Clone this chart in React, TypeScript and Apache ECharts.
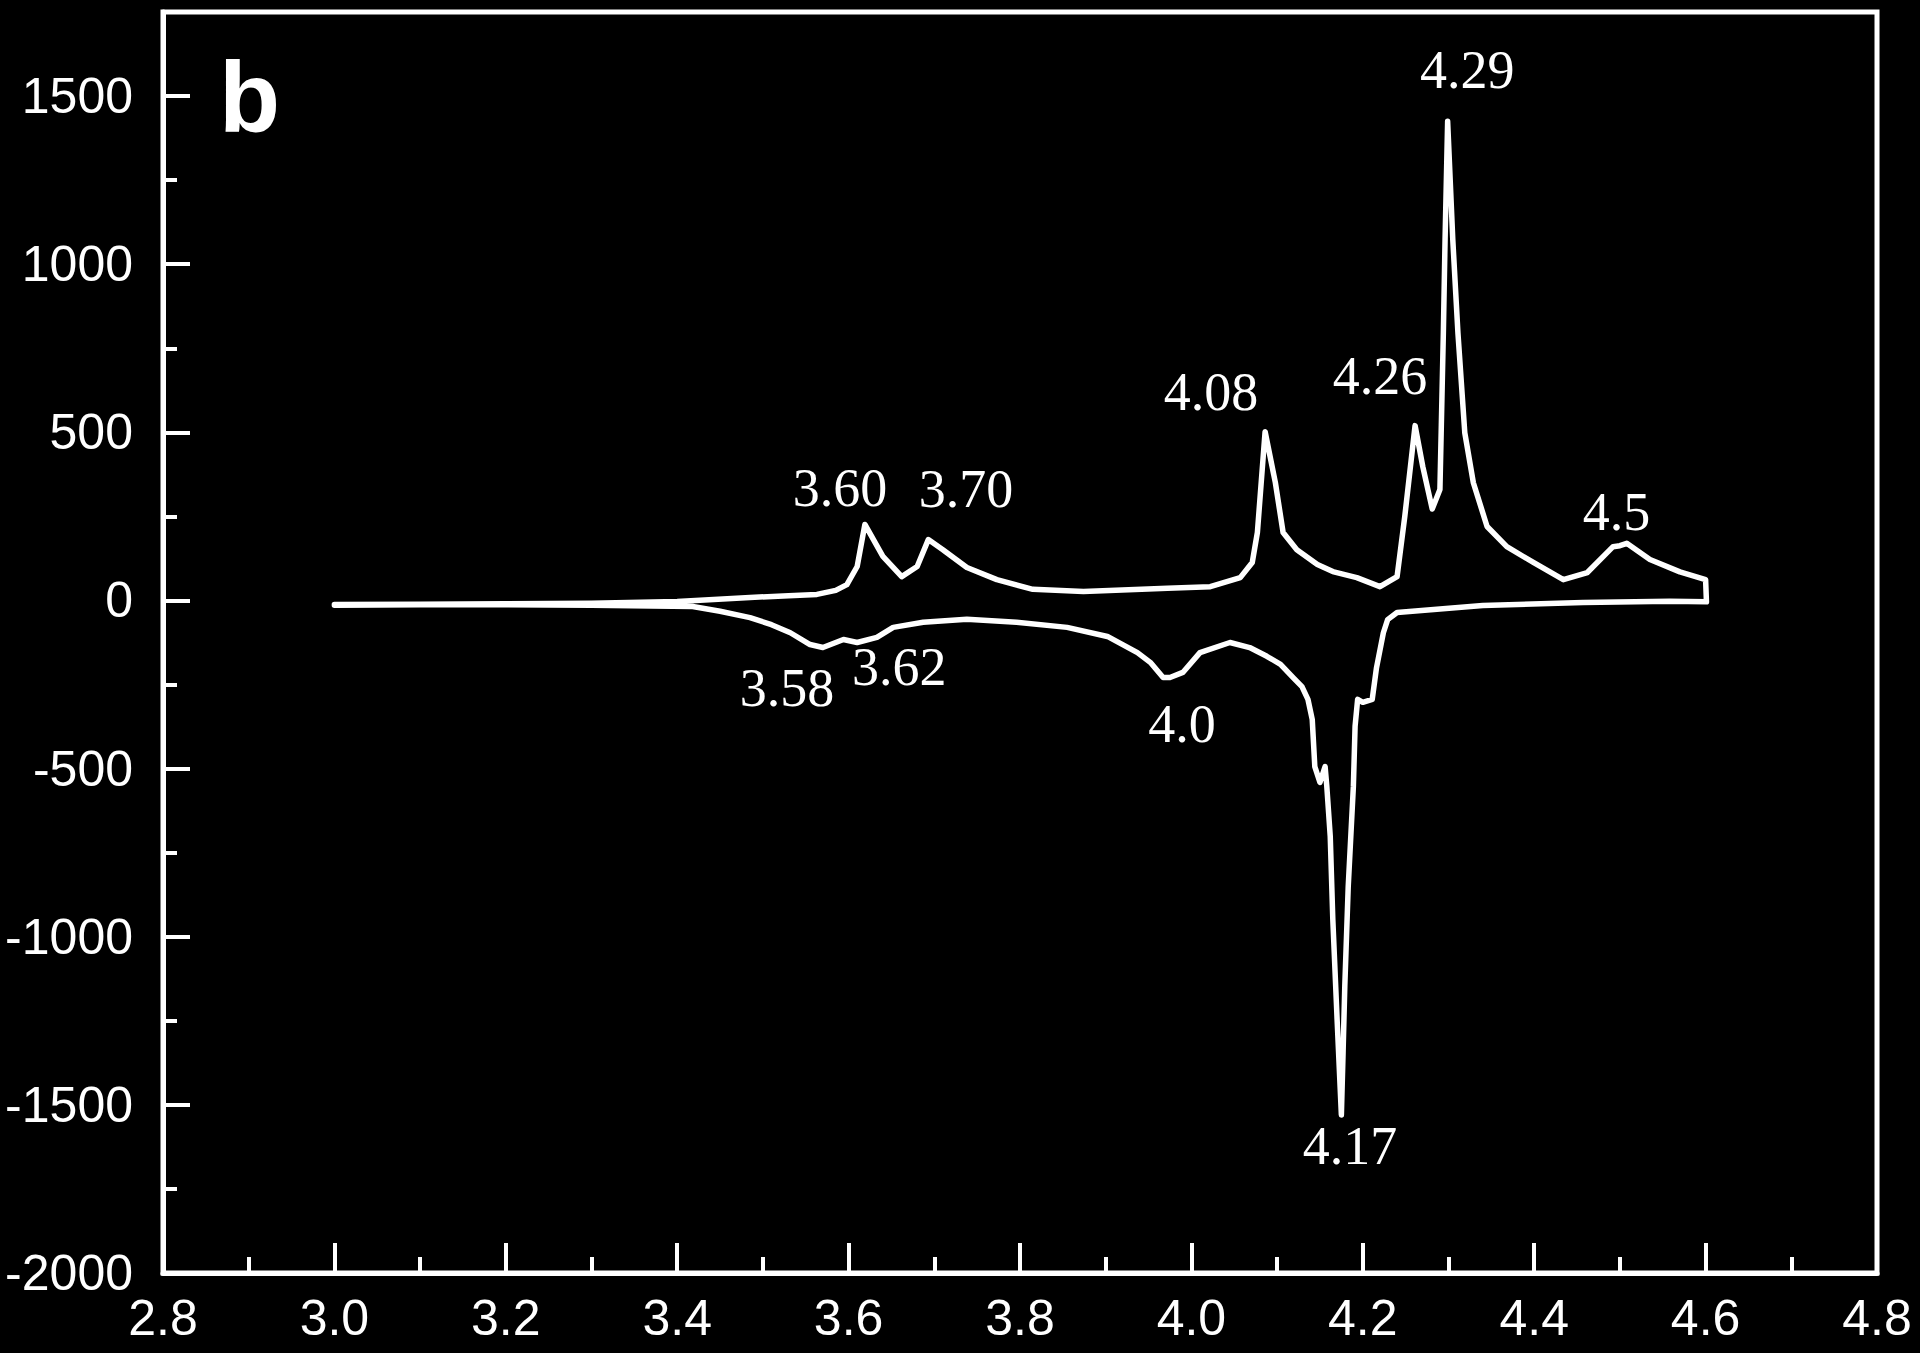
import React, { useEffect, useRef } from "react";
import * as echarts from "echarts";

// Anodic (forward) scan: potential (V) and current
const anodicX = [3.0, 3.1, 3.2, 3.3, 3.4, 3.485, 3.53, 3.563, 3.585, 3.598, 3.61, 3.619, 3.64, 3.662, 3.68, 3.693, 3.71, 3.738, 3.773, 3.815, 3.874, 3.972, 4.022, 4.057, 4.071, 4.077, 4.086, 4.098, 4.107, 4.123, 4.147, 4.165, 4.193, 4.22, 4.24, 4.249, 4.261, 4.27, 4.281, 4.29, 4.294, 4.296, 4.299, 4.305, 4.311, 4.319, 4.329, 4.345, 4.368, 4.399, 4.434, 4.462, 4.492, 4.5, 4.508, 4.535, 4.57, 4.6, 4.601];
const anodicY = [-12, -11, -10, -8, -3, 9, 14, 18, 30, 47, 101, 226, 131, 71, 101, 181, 151, 98, 62, 33, 27, 36, 41, 68, 113, 202, 502, 350, 202, 151, 107, 86, 68, 41, 71, 250, 520, 398, 272, 330, 796, 1073, 1425, 1073, 796, 499, 350, 220, 160, 113, 62, 83, 160, 163, 170, 122, 85, 62, -4];

// Cathodic (reverse) scan
const cathodicX = [4.558, 4.457, 4.34, 4.24, 4.229, 4.224, 4.216, 4.211, 4.2, 4.194, 4.191, 4.189, 4.183, 4.179, 4.177, 4.175, 4.17, 4.165, 4.162, 4.158, 4.156, 4.15, 4.144, 4.141, 4.136, 4.129, 4.119, 4.104, 4.088, 4.068, 4.045, 4.01, 3.99, 3.975, 3.967, 3.952, 3.937, 3.902, 3.855, 3.796, 3.738, 3.687, 3.652, 3.633, 3.61, 3.594, 3.57, 3.555, 3.532, 3.51, 3.485, 3.45, 3.418, 3.3, 3.2, 3.1, 3.0];
const cathodicY = [-2, -6, -15, -36, -57, -96, -200, -294, -303, -294, -374, -553, -850, -1147, -1343, -1530, -1245, -948, -701, -553, -494, -541, -494, -354, -294, -256, -230, -190, -166, -140, -125, -155, -214, -229, -229, -184, -155, -107, -80, -65, -56, -65, -80, -110, -125, -116, -140, -131, -96, -72, -51, -32, -18, -14, -13, -13, -14];

// Peak annotations
const peakLabels = ["4.29", "4.08", "4.26", "3.60", "3.70", "4.5", "3.58", "3.62", "4.0", "4.17"];
const peakLabelX = [4.322, 4.023, 4.22, 3.59, 3.737, 4.496, 3.528, 3.659, 3.989, 4.185];
const peakLabelY = [1578, 621, 668, 333, 330, 264, -259, -199, -366, -1623];

// Axis settings
const xMin = 2.8;
const xMax = 4.8;
const xStep = 0.2;
const yMin = -2000;
const yMax = 1750;
const yStep = 500;
const yMinorStep = 250;

export default function App() {
  const ref = useRef<HTMLDivElement>(null);

  useEffect(() => {
    if (!ref.current) return;
    const chart = echarts.init(ref.current, undefined, { renderer: "svg" });

    const loop: number[][] = [];
    anodicX.forEach((x, i) => loop.push([x, anodicY[i]]));
    cathodicX.forEach((x, i) => loop.push([x, cathodicY[i]]));

    const labelData = peakLabels.map((t, i) => [peakLabelX[i], peakLabelY[i], t]);

    const white = "#ffffff";
    const sansLabel = {
      color: white,
      fontFamily: "Liberation Sans",
      fontSize: 50,
    };

    chart.setOption({
      animation: false,
      backgroundColor: "#000000",
      grid: {
        show: true,
        left: 163,
        right: 43,
        top: 12,
        bottom: 80,
        borderColor: white,
        borderWidth: 5,
        backgroundColor: "transparent",
      },
      xAxis: {
        type: "value",
        min: xMin,
        max: xMax,
        interval: xStep,
        axisLine: { show: true, onZero: false, lineStyle: { color: white, width: 5 } },
        axisTick: { show: true, inside: true, length: 30, lineStyle: { color: white, width: 4 } },
        minorTick: { show: true, splitNumber: 2, length: 16, lineStyle: { color: white, width: 4 } },
        splitLine: { show: false },
        minorSplitLine: { show: false },
        axisLabel: {
          ...sansLabel,
          margin: 20,
          formatter: (v: number) => v.toFixed(1),
        },
      },
      yAxis: [
        {
          type: "value",
          min: yMin,
          max: yMax,
          interval: yStep,
          position: "left",
          axisLine: { show: true, onZero: false, lineStyle: { color: white, width: 5 } },
          axisTick: { show: true, inside: true, length: 27, lineStyle: { color: white, width: 4 } },
          splitLine: { show: false },
          axisLabel: {
            ...sansLabel,
            margin: 30,
            showMaxLabel: false,
            formatter: (v: number) => (Math.abs(v - yMax) < 1e-6 ? "" : String(Math.round(v))),
          },
        },
        {
          type: "value",
          min: yMin,
          max: yMax,
          interval: yMinorStep,
          position: "left",
          offset: 0,
          axisLine: { show: false },
          axisTick: { show: true, inside: true, length: 14, lineStyle: { color: white, width: 4 } },
          splitLine: { show: false },
          axisLabel: { show: false },
        },
      ],
      series: [
        {
          type: "line",
          data: loop,
          yAxisIndex: 0,
          showSymbol: false,
          symbol: "none",
          smooth: false,
          lineStyle: { color: white, width: 5.5, cap: "round", join: "round" },
          z: 3,
        },
        {
          type: "scatter",
          data: labelData,
          yAxisIndex: 0,
          symbolSize: 1,
          itemStyle: { color: "#000000", opacity: 1 },
          emphasis: { disabled: true },
          label: {
            show: true,
            position: "inside",
            formatter: (p: any) => p.data[2],
            color: white,
            opacity: 1,
            textBorderWidth: 0,
            fontFamily: "Liberation Serif",
            fontSize: 54,
          },
          z: 4,
        },
      ],
      graphic: [
        {
          type: "text",
          x: 219,
          y: 97,
          style: {
            text: "b",
            fill: white,
            font: "bold 100px 'Liberation Sans'",
            textVerticalAlign: "middle",
            textAlign: "left",
          },
        },
      ],
    });

    return () => chart.dispose();
  }, []);

  return (
    <div
      ref={ref}
      style={{ position: "fixed", left: 0, top: 0, width: 1920, height: 1353, background: "#000" }}
    />
  );
}
